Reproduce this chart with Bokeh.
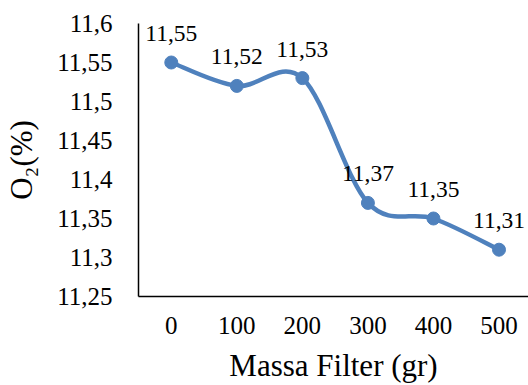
from bokeh.plotting import figure
from bokeh.models import ColumnDataSource, FixedTicker, Range1d
from bokeh.core.properties import value
from bokeh.embed import file_html
from bokeh.resources import INLINE

# ---- data ----
categories = ["0", "100", "200", "300", "400", "500"]
o2_values = [11.55, 11.52, 11.53, 11.37, 11.35, 11.31]
y_ticks = [11.25, 11.3, 11.35, 11.4, 11.45, 11.5, 11.55, 11.6]
y_tick_labels = ["11,25", "11,3", "11,35", "11,4", "11,45", "11,5", "11,55", "11,6"]
x_title = "Massa Filter (gr)"
y_title = "O\u2082(%)"

FONT = "Liberation Serif"
COLOR = "#4F81BD"

idx = list(range(len(categories)))
labels = [f"{v:.2f}".replace(".", ",") for v in o2_values]

p = figure(width=528, height=385, output_backend="svg", toolbar_location=None,
           x_range=Range1d(-0.5, 5.45), y_range=Range1d(11.25, 11.6),
           min_border_left=138, min_border_right=0, min_border_top=23,
           min_border_bottom=89)
p.outline_line_color = None
p.grid.grid_line_color = None
p.background_fill_color = "white"
p.border_fill_color = "white"

# smoothed line (Catmull-Rom style bezier segments computed from the data)
n = len(idx)
x0, y0, x1, y1, cx0, cy0, cx1, cy1 = [], [], [], [], [], [], [], []
for i in range(n - 1):
    pm = max(i - 1, 0)
    pn = min(i + 2, n - 1)
    x0.append(idx[i]); y0.append(o2_values[i])
    x1.append(idx[i + 1]); y1.append(o2_values[i + 1])
    cx0.append(idx[i] + (idx[i + 1] - idx[pm]) / 6)
    cy0.append(o2_values[i] + (o2_values[i + 1] - o2_values[pm]) / 6)
    cx1.append(idx[i + 1] - (idx[pn] - idx[i]) / 6)
    cy1.append(o2_values[i + 1] - (o2_values[pn] - o2_values[i]) / 6)
bsrc = ColumnDataSource(dict(x0=x0, y0=y0, x1=x1, y1=y1, cx0=cx0, cy0=cy0, cx1=cx1, cy1=cy1))
p.bezier(x0="x0", y0="y0", x1="x1", y1="y1", cx0="cx0", cy0="cy0", cx1="cx1", cy1="cy1",
         source=bsrc, line_color=COLOR, line_width=4.5, line_cap="round")

src = ColumnDataSource(dict(x=idx, y=o2_values, lab=labels))
p.scatter("x", "y", source=src, size=13, fill_color=COLOR, line_color=COLOR)
p.text("x", "y", text="lab", source=src, text_font=value(FONT), text_font_size="23.5px",
       text_align="center", text_baseline="middle", y_offset=-29, text_color="black")

# axes
p.xaxis.ticker = FixedTicker(ticks=idx)
p.xaxis.major_label_overrides = {i: c for i, c in zip(idx, categories)}
p.yaxis.ticker = FixedTicker(ticks=y_ticks)
p.yaxis.major_label_overrides = {t: l for t, l in zip(y_ticks, y_tick_labels)}

for ax in (p.xaxis[0], p.yaxis[0]):
    ax.axis_line_color = "black"
    ax.axis_line_width = 1.5
    ax.major_tick_line_color = None
    ax.minor_tick_line_color = None
    ax.major_tick_out = 0
    ax.major_tick_in = 0
    ax.major_label_text_font = FONT
    ax.major_label_text_font_size = "25px"
    ax.major_label_text_color = "black"
    ax.axis_label_text_font = FONT
    ax.axis_label_text_font_size = "31px"
    ax.axis_label_text_font_style = "normal"
    ax.axis_label_text_color = "black"

p.xaxis.axis_label = x_title
p.xaxis.major_label_standoff = 20
p.xaxis.axis_label_standoff = 11
p.yaxis.axis_label = y_title
p.yaxis.major_label_standoff = 26
p.yaxis.axis_label_standoff = 15

open("out.html", "w").write(file_html(p, INLINE))
